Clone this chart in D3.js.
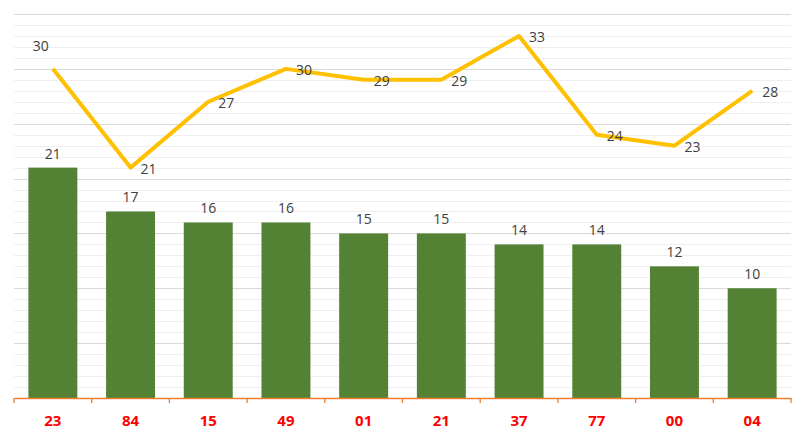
<!DOCTYPE html>
<html>
<head>
<meta charset="utf-8">
<script src="https://cdn.jsdelivr.net/npm/d3@7"></script>
<style>
  body { margin: 0; background: #fff; }
  text { font-family: "Open Sans", "Noto Sans", sans-serif; }
</style>
</head>
<body>
<script>
var categories = ["23", "84", "15", "49", "01", "21", "37", "77", "00", "04"];
var barValues = [21, 17, 16, 16, 15, 15, 14, 14, 12, 10];
var lineValues = [30, 21, 27, 30, 29, 29, 33, 24, 23, 28];

var width = 806, height = 438;
var plotLeft = 14, plotRight = 791, plotTop = 14, plotBottom = 398;

var svg = d3.select("body").append("svg")
  .attr("width", width)
  .attr("height", height);

var x = d3.scaleBand()
  .domain(categories)
  .range([plotLeft, plotRight])
  .paddingInner(0.37)
  .paddingOuter(0.185);

var y = d3.scaleLinear()
  .domain([0, 35])
  .range([plotBottom, plotTop]);

// minor gridlines every 1, major every 5
svg.append("g").selectAll("line")
  .data(d3.range(1, 36).filter(function(d) { return d % 5 != 0; }))
  .enter().append("line")
  .attr("x1", plotLeft).attr("x2", plotRight)
  .attr("y1", function(d) { return Math.round(y(d)) + 0.5; })
  .attr("y2", function(d) { return Math.round(y(d)) + 0.5; })
  .attr("stroke", "#efefef");

svg.append("g").selectAll("line")
  .data(d3.range(5, 36, 5))
  .enter().append("line")
  .attr("x1", plotLeft).attr("x2", plotRight)
  .attr("y1", function(d) { return Math.round(y(d)) + 0.5; })
  .attr("y2", function(d) { return Math.round(y(d)) + 0.5; })
  .attr("stroke", "#d9d9d9");

// bars
svg.append("g").selectAll("rect")
  .data(barValues)
  .enter().append("rect")
  .attr("x", function(d, i) { return x(categories[i]); })
  .attr("width", x.bandwidth())
  .attr("y", function(d) { return y(d); })
  .attr("height", function(d) { return plotBottom - y(d); })
  .attr("fill", "#548235");

svg.append("g").selectAll("text")
  .data(barValues)
  .enter().append("text")
  .attr("x", function(d, i) { return x(categories[i]) + x.bandwidth() / 2; })
  .attr("y", function(d) { return y(d) - 9; })
  .attr("text-anchor", "middle")
  .attr("font-size", 14)
  .attr("fill", "#404040")
  .text(function(d) { return d; });

// x axis
var axis = d3.axisBottom(x).tickSize(0).tickPadding(17);
var gx = svg.append("g")
  .attr("transform", "translate(0," + plotBottom + ")")
  .call(axis);
gx.select(".domain").attr("stroke", "#ED7D31").attr("stroke-width", 1.3);
gx.selectAll("text")
  .attr("fill", "#ff0000")
  .attr("font-size", 15)
  .attr("font-weight", "bold")
  .attr("font-family", "\"Open Sans\", \"Noto Sans\", sans-serif");

var step = x.step();
svg.append("g").selectAll("line")
  .data(d3.range(categories.length + 1))
  .enter().append("line")
  .attr("x1", function(i) { return plotLeft + i * step; })
  .attr("x2", function(i) { return plotLeft + i * step; })
  .attr("y1", plotBottom).attr("y2", plotBottom + 5)
  .attr("stroke", "#ED7D31").attr("stroke-width", 1.3);

// line
var cx = function(d, i) { return x(categories[i]) + x.bandwidth() / 2; };
var line = d3.line()
  .x(cx)
  .y(function(d) { return y(d); });

svg.append("path")
  .datum(lineValues)
  .attr("d", line)
  .attr("fill", "none")
  .attr("stroke", "#FFC000")
  .attr("stroke-width", 4)
  .attr("stroke-linejoin", "round");

svg.append("g").selectAll("text")
  .data(lineValues)
  .enter().append("text")
  .attr("x", function(d, i) { return i == 0 ? cx(d, i) - 20 : cx(d, i) + 10; })
  .attr("y", function(d, i) { return i == 0 ? y(d) - 18 : y(d) + 6; })
  .attr("text-anchor", "start")
  .attr("font-size", 14)
  .attr("fill", "#404040")
  .text(function(d) { return d; });
</script>
</body>
</html>
